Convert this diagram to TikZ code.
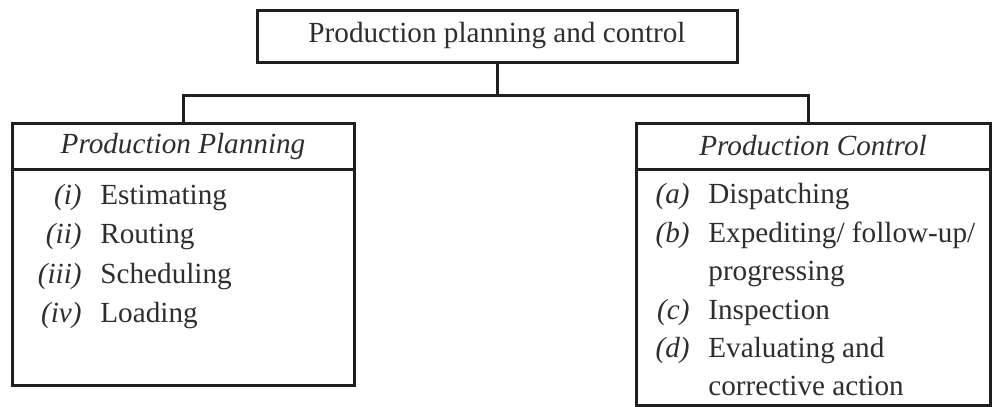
\documentclass[tikz,border=0pt]{standalone}
\usepackage{fontspec}
\setmainfont{Liberation Serif}
\begin{document}
\begin{tikzpicture}[x=0.5pt,y=-0.5pt,
  box/.style={draw=black!88,line width=1.5pt,rectangle,inner sep=0pt,text=black!82,font=\fontsize{14.6}{17}\selectfont},
  conn/.style={draw=black!88,line width=1.5pt,line join=miter},
  lbl/.style={inner sep=0pt,anchor=base east,text=black!82,font=\fontsize{14.6}{17}\selectfont\itshape},
  itm/.style={inner sep=0pt,anchor=base west,text=black!82,font=\fontsize{14.6}{17}\selectfont}]
\useasboundingbox (0,0) rectangle (992,407);
% top box
\node[box,minimum width=240pt,minimum height=26pt] (top) at (497,36) {Production planning and control};
% left box
\node[box,minimum width=171pt,minimum height=23pt,font=\fontsize{14.6}{17}\selectfont\itshape] (plan) at (183,146) {Production Planning};
\node[box,minimum width=171pt,minimum height=108pt] (planbody) at (183,277) {};
% right box
\node[box,minimum width=177pt,minimum height=23pt,font=\fontsize{14.6}{17}\selectfont\itshape] (ctrl) at (813,146) {Production Control};
\node[box,minimum width=177pt,minimum height=118pt] (ctrlbody) at (813,287) {};
% connectors
\coordinate (j) at (497,95);
\draw[conn] (top.south) -- (j);
\draw[conn] (plan.north) |- (j) -| ([xshift=-2.5pt]ctrl.north);
% left items
\node[lbl] (l1) at (82,204) {(i)};
\node[itm] (t1) at (100,204) {Estimating};
\node[lbl] (l2) at (82,243.5) {(ii)};
\node[itm] (t2) at (100,243.5) {Routing};
\node[lbl] (l3) at (82,283) {(iii)};
\node[itm] (t3) at (100,283) {Scheduling};
\node[lbl] (l4) at (82,322.5) {(iv)};
\node[itm] (t4) at (100,322.5) {Loading};
% right items
\node[lbl] (ra) at (690,203) {(a)};
\node[itm] (ta) at (708,203) {Dispatching};
\node[lbl] (rb) at (690,242) {(b)};
\node[itm] (tb) at (708,242) {Expediting/ follow-up/};
\node[itm] (tb2) at (708,280) {progressing};
\node[lbl] (rc) at (690,319) {(c)};
\node[itm] (tc) at (708,319) {Inspection};
\node[lbl] (rd) at (690,357) {(d)};
\node[itm] (td) at (708,357) {Evaluating and};
\node[itm] (td2) at (708,395) {corrective action};
\end{tikzpicture}
\end{document}
